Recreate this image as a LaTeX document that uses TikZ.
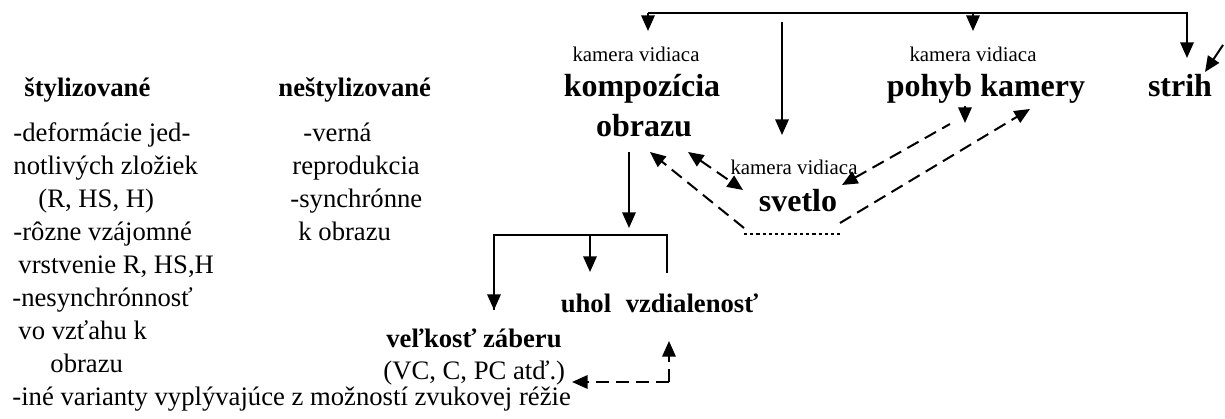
\documentclass[tikz,border=0pt]{standalone}
\usepackage{fontspec}
\setmainfont{Liberation Serif}
\usetikzlibrary{arrows.meta}
\begin{document}
\begin{tikzpicture}[x=0.45pt,y=-0.45pt,
  reg/.style={inner sep=0pt, anchor=base west, font=\fontsize{12}{14}\selectfont},
  hd/.style={inner sep=0pt, anchor=base west, font=\fontsize{12}{14}\selectfont\bfseries},
  bc/.style={inner sep=0pt, anchor=base, font=\fontsize{12}{14}\selectfont\bfseries},
  big/.style={inner sep=0pt, anchor=base, font=\fontsize{14.4}{16}\selectfont\bfseries},
  sml/.style={inner sep=0pt, anchor=base, font=\fontsize{9.4}{11}\selectfont},
  ln/.style={line width=0.9pt},
  conn/.style={line width=0.9pt, -{Triangle[width=6pt,length=7pt]}},
  dconn/.style={conn, dash pattern=on 5.8pt off 3.2pt},
  dboth/.style={line width=0.9pt, dash pattern=on 5.8pt off 3.2pt, {Triangle[width=6pt,length=7pt]}-{Triangle[width=6pt,length=7pt]}},
  dstart/.style={line width=0.9pt, dash pattern=on 5.8pt off 3.2pt, {Triangle[width=6pt,length=7pt]}-},
  dotl/.style={line width=0.9pt, dash pattern=on 1.4pt off 1.4pt}
]
\useasboundingbox (0,0) rectangle (1225,419);

% left columns
\node[hd] (styl) at (24,97) {štylizované};
\node[hd] (nestyl) at (278,97) {neštylizované};
\node[reg] (l1) at (13,142) {-deformácie jed-};
\node[reg] (l2) at (13,175) {notlivých zložiek};
\node[reg] (l3) at (38,208) {(R, HS, H)};
\node[reg] (l4) at (13,241) {-rôzne vzájomné};
\node[reg] (l5) at (18,274) {vrstvenie R, HS,H};
\node[reg] (l6) at (12,307) {-nesynchrónnosť};
\node[reg] (l7) at (18,340) {vo vzťahu k};
\node[reg] (l8) at (50,373) {obrazu};
\node[reg] (l9) at (12,406) {-iné varianty vyplývajúce z možností zvukovej réžie};
\node[reg] (r1) at (303,142) {-verná};
\node[reg] (r2) at (292,175) {reprodukcia};
\node[reg] (r3) at (290,208) {-synchrónne};
\node[reg] (r4) at (298,241) {k obrazu};

% main labels
\node[sml] (kv1) at (636,62) {kamera vidiaca};
\node[big] (komp) at (642,97) {kompozícia};
\node[big] (obr) at (644,137) {obrazu};
\node[sml] (kv2) at (973,62) {kamera vidiaca};
\node[big] (pohyb) at (986,97) {pohyb kamery};
\node[big] (strih) at (1180,97) {strih};
\node[sml] (kv3) at (794,175) {kamera vidiaca};
\node[big] (svetlo) at (798,212) {svetlo};
\node[bc] (uhol) at (586,313) {uhol};
\node[bc] (vzd) at (692,313) {vzdialenosť};
\node[bc] (velk) at (474,348) {veľkosť záberu};
\node[reg] (vc) at (383,380) {(VC, C, PC atď.)};

% coordinates
\coordinate (t1) at (648,13);
\coordinate (t2) at (973,13);
\coordinate (t3) at (1187,13);
\coordinate (a1) at (648,31);
\coordinate (a2) at (973,31);
\coordinate (a3) at (1187,58);
\coordinate (v1) at (782,22);
\coordinate (v2) at (782,135);
\coordinate (s1) at (1223,45);
\coordinate (s2) at (1205,72);
\coordinate (o1) at (629,152);
\coordinate (o2) at (629,228);
\coordinate (b1) at (494,235);
\coordinate (b2) at (590,235);
\coordinate (b3) at (667,235);
\coordinate (b1e) at (494,310);
\coordinate (b2e) at (590,272);
\coordinate (b3e) at (667,273);
\coordinate (c0) at (669,382);
\coordinate (c1) at (669,341);
\coordinate (c2) at (572,382);
\coordinate (d1) at (744,228);
\coordinate (d1e) at (650,152);
\coordinate (e1) at (688,152);
\coordinate (e2) at (743,190);
\coordinate (f1) at (744,234);
\coordinate (f2) at (840,234);
\coordinate (g1) at (840,223);
\coordinate (g2) at (1030,109);
\coordinate (h1) at (842,185);
\coordinate (hm) at (950,124);
\coordinate (hs) at (965,106);
\coordinate (h2) at (965,123);

% top connectors
\draw[conn] (t1) -- (t3) -- (a3);
\draw[conn] (t1) -- (a1);
\draw[conn] (t2) -- (a2);
\draw[conn] (v1) -- (v2);
\draw[conn] (s1) -- (s2);
% obrazu down and bracket
\draw[conn] (o1) -- (o2);
\draw[ln] (b1e) -- (b1) -- (b3) -- (b3e);
\draw[conn] (b1) -- (b1e);
\draw[conn] (b2) -- (b2e);
% dashed
\draw[dconn] (c0) -- (c1);
\draw[dconn] (c0) -- (c2);
\draw[dconn] (d1) -- (d1e);
\draw[dboth] (e1) -- (e2);
\draw[dotl] (f1) -- (f2);
\draw[dconn] (g1) -- (g2);
\draw[dstart] (h1) -- (hm);
\draw[conn] (hs) -- (h2);
\end{tikzpicture}
\end{document}
